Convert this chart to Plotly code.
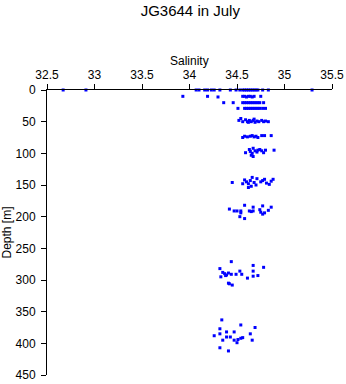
import plotly.graph_objects as go

# Salinity / depth samples
sal_0 = [32.67, 32.91, 34.07, 34.10, 34.16, 34.19, 34.23, 34.26, 34.32, 34.43, 34.49, 34.53,
         34.56, 34.58, 34.60, 34.62, 34.64, 34.66, 34.68, 34.70, 34.72, 34.77, 34.83, 35.29]
dep_0 = [0] * 24

sal_10 = [33.93, 34.19, 34.30, 34.56, 34.58, 34.60, 34.62, 34.64, 34.66, 34.68, 34.75]
dep_10 = [10, 10, 11, 10, 10, 11, 10, 10, 11, 10, 10]

sal_20 = [34.36, 34.46, 34.56, 34.58, 34.60, 34.62, 34.64, 34.66, 34.68, 34.70, 34.72, 34.74, 34.78]
dep_20 = [20, 20, 20, 20, 20, 20, 20, 20, 20, 20, 20, 20, 20]

sal_30 = [34.51, 34.58, 34.60, 34.62, 34.64, 34.66, 34.68, 34.70, 34.72, 34.74, 34.77, 34.80]
dep_30 = [29, 29, 29, 29, 29, 29, 29, 29, 29, 29, 29, 29]

sal_50 = [34.52, 34.54, 34.56, 34.59, 34.61, 34.63, 34.65, 34.67, 34.69, 34.71, 34.73, 34.76,
          34.78, 34.80, 34.83, 34.68, 34.62]
dep_50 = [48, 45, 50, 47, 50, 48, 50, 48, 51, 49, 50, 48, 50, 49, 50, 46, 51]

sal_75 = [34.56, 34.58, 34.61, 34.64, 34.66, 34.68, 34.70, 34.72, 34.76, 34.79, 34.86]
dep_75 = [75, 73, 74, 73, 72, 74, 73, 75, 72, 72, 72]

sal_100 = [34.59, 34.63, 34.64, 34.66, 34.67, 34.69, 34.71, 34.72, 34.74, 34.76, 34.78, 34.80,
           34.89, 34.65, 34.67]
dep_100 = [99, 94, 97, 100, 92, 96, 98, 95, 94, 96, 99, 95, 95, 103, 105]

sal_145 = [34.45, 34.56, 34.58, 34.60, 34.62, 34.64, 34.66, 34.68, 34.70, 34.71, 34.75, 34.77,
           34.79, 34.81, 34.84, 34.86, 34.88, 34.65, 34.62]
dep_145 = [146, 148, 142, 145, 148, 143, 138, 146, 150, 140, 145, 143, 141, 147, 149, 144, 141, 152, 154]

sal_195 = [34.58, 34.42, 34.47, 34.50, 34.54, 34.63, 34.65, 34.67, 34.67, 34.74, 34.77, 34.86,
           34.75, 34.77, 34.79, 34.53, 34.58, 34.54, 34.83]
dep_195 = [182, 188, 191, 191, 191, 191, 192, 191, 185, 189, 183, 185, 193, 196, 194, 200, 203, 194, 190]

sal_290 = [34.44, 34.32, 34.35, 34.37, 34.39, 34.41, 34.44, 34.33, 34.41, 34.42, 34.45, 34.53,
           34.49, 34.55, 34.61, 34.67, 34.67, 34.67, 34.72, 34.78, 34.38]
dep_290 = [271, 282, 288, 290, 292, 289, 291, 295, 305, 306, 308, 286, 291, 291, 297, 294, 286,
           277, 293, 280, 293]

sal_390 = [34.34, 34.32, 34.26, 34.32, 34.35, 34.39, 34.39, 34.43, 34.47, 34.47, 34.50, 34.51,
           34.54, 34.56, 34.54, 34.64, 34.66, 34.69, 34.32, 34.41]
dep_390 = [363, 377, 388, 385, 395, 382, 390, 390, 382, 395, 399, 394, 392, 391, 371, 385, 395,
           375, 407, 412]

salinity = sal_0 + sal_10 + sal_20 + sal_30 + sal_50 + sal_75 + sal_100 + sal_145 + sal_195 + sal_290 + sal_390
depth = dep_0 + dep_10 + dep_20 + dep_30 + dep_50 + dep_75 + dep_100 + dep_145 + dep_195 + dep_290 + dep_390

x_ticks = [32.5, 33, 33.5, 34, 34.5, 35, 35.5]
x_ticktext = ["32.5", "33", "33.5", "34", "34.5", "35", "35.5"]
y_ticks = [0, 50, 100, 150, 200, 250, 300, 350, 400, 450]

font = "Liberation Sans, Arial, sans-serif"

fig = go.Figure()
fig.add_trace(go.Scatter(
    x=salinity, y=depth, mode="markers",
    marker=dict(symbol="square", size=3, color="#0000FF", line=dict(width=0)),
    showlegend=False, cliponaxis=False,
))

fig.update_layout(
    width=346, height=384,
    margin=dict(l=47, r=14, t=90, b=9, autoexpand=False),
    paper_bgcolor="white", plot_bgcolor="white",
    font=dict(family=font, size=12, color="black"),
    title=dict(text="JG3644 in July", x=0.55, xanchor="center", y=0.972, yanchor="middle",
               font=dict(family=font, size=15, color="black")),
    xaxis=dict(
        side="top", range=[32.5, 35.5], tickvals=x_ticks, ticktext=x_ticktext,
        showline=True, linecolor="black", linewidth=1, showgrid=False, zeroline=False,
        ticks="outside", ticklen=5, tickcolor="black", tickwidth=1, automargin=False,
        tickfont=dict(size=12),
    ),
    yaxis=dict(
        range=[450, 0], tickvals=y_ticks, automargin=False,
        showline=True, linecolor="black", linewidth=1, showgrid=False, zeroline=False,
        ticks="outside", ticklen=5, tickcolor="black", tickwidth=1,
        title=dict(text="Depth [m]", font=dict(size=12)),
        tickfont=dict(size=12), ticklabelstandoff=3,
    ),
    annotations=[dict(text="Salinity", xref="paper", yref="paper", x=0.5, y=1.102,
                      xanchor="center", yanchor="middle", showarrow=False,
                      font=dict(size=12, color="black"))],
)

fig.write_html("out.html")
